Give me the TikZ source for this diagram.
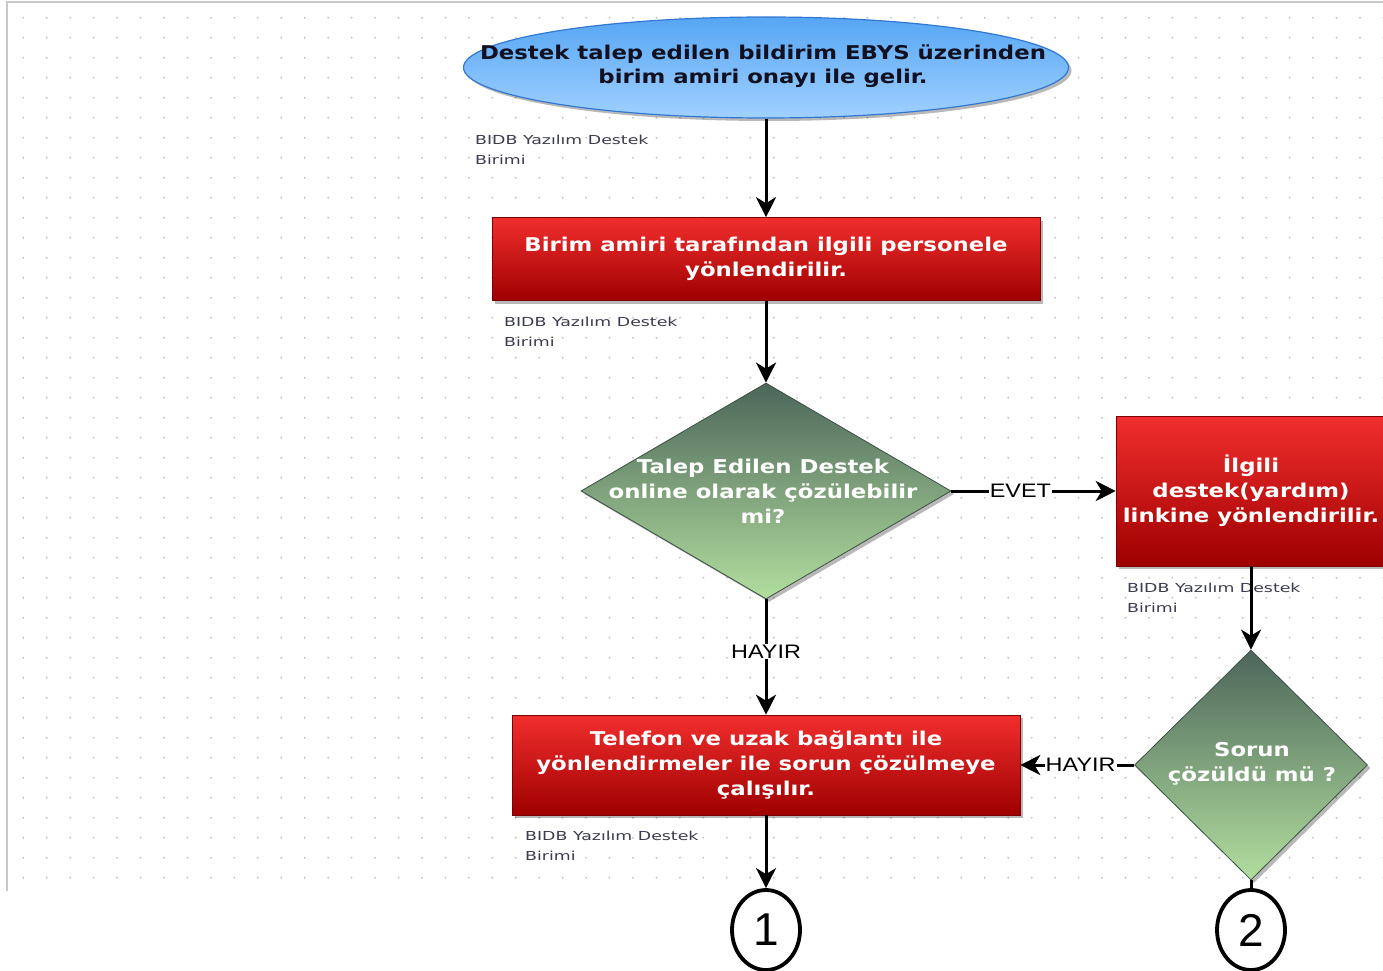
\documentclass[tikz,border=0pt]{standalone}
\usepackage{fontspec}
\usetikzlibrary{shapes.geometric,arrows.meta,shadows}
\newfontfamily\boxfont[FakeStretch=1.2]{DejaVu Sans Bold}
\newfontfamily\lblfont[FakeStretch=1.4]{DejaVu Sans}
\newfontfamily\arfont[FakeStretch=1.2]{Liberation Sans}
\newfontfamily\numfont{Liberation Sans}
\definecolor{redtop}{RGB}{242,46,46}
\definecolor{redbot}{RGB}{158,0,0}
\definecolor{bluetop}{RGB}{86,166,244}
\definecolor{bluebot}{RGB}{160,208,255}
\definecolor{blueline}{RGB}{50,120,210}
\definecolor{greentop}{RGB}{76,102,90}
\definecolor{greenbot}{RGB}{178,222,158}
\definecolor{greenline}{RGB}{60,80,70}
\definecolor{dotc}{RGB}{200,200,200}
\definecolor{lblc}{RGB}{60,60,80}
\definecolor{inktext}{RGB}{16,16,32}
\tikzset{
  shad/.style={general shadow={shadow xshift=3pt,shadow yshift=-3pt,fill=black,opacity=0.28}},
  redbox/.style={rectangle, shad, top color=redtop, bottom color=redbot, draw=redbot!80!black, line width=0.6pt, inner sep=0pt, text=white, align=center, font=\boxfont\fontsize{19}{25}\selectfont},
  startell/.style={ellipse, shad, top color=bluetop, bottom color=bluebot, draw=blueline, line width=1.2pt, inner sep=0pt, minimum width=605, minimum height=101},
  dia/.style={diamond, shad, top color=greentop, bottom color=greenbot, draw=greenline, line width=0.8pt, inner sep=0pt},
  boxtext/.style={inner sep=0pt, align=center, text=white, font=\boxfont\fontsize{19}{25}\selectfont},
  lbl/.style={inner sep=0pt, align=left, anchor=west, text=lblc, font=\lblfont\fontsize{12.4}{20}\selectfont},
  arr/.style={draw=black, line width=3pt, -{Stealth[length=20pt,width=20pt,inset=6pt]}},
  plainline/.style={draw=black, line width=3pt},
  elbl/.style={fill=white, inner sep=1pt, text=black, font=\arfont\fontsize{19.5}{20}\selectfont},
  circ/.style={ellipse, draw=black, line width=3.8pt, fill=white, minimum width=68, minimum height=80, inner sep=0pt, font=\numfont\fontsize{46}{46}\selectfont}
}
\begin{document}
\begin{tikzpicture}[x=1pt,y=-1pt]
\useasboundingbox (0,0) rectangle (1383,971);
\clip (0,0) rectangle (1383,971);
\fill[white] (0,0) rectangle (1383,971);
% canvas grid
\foreach \i in {0,...,58}{
  \foreach \j in {0,...,43}{
    \fill[dotc] (23.3+23.45*\i, 17.7+20*\j) circle (1.1);
  }
}
\draw[dotc, line width=2pt] (7,891) -- (7,2) -- (1390,2);

% nodes
\node[startell] (e1) at (766,67.5) {};
\node[inner sep=0pt, align=center, text=inktext, font=\boxfont\fontsize{19}{24}\selectfont] (e1t) at (763,66) {Destek talep edilen bildirim EBYS üzerinden\\birim amiri onayı ile gelir.};
\node[lbl] (l1) at (475,150) {BIDB Yazılım Destek\\Birimi};

\node[redbox, minimum width=548, minimum height=83] (b1) at (766,259) {Birim amiri tarafından ilgili personele\\yönlendirilir.};
\node[lbl] (l2) at (504,332) {BIDB Yazılım Destek\\Birimi};

\node[dia, minimum width=370, minimum height=216] (d1) at (766,491) {};
\node[boxtext] (d1t) at (763,491) {Talep Edilen Destek\\online olarak çözülebilir\\mi?};

\node[redbox, minimum width=270, minimum height=150] (b3) at (1251,491) {İlgili\\destek(yardım)\\linkine yönlendirilir.};
\node[lbl] (l3) at (1127,598) {BIDB Yazılım Destek\\Birimi};

\node[dia, minimum width=233, minimum height=230] (d2) at (1251,765) {};
\node[boxtext] (d2t) at (1252,764) {Sorun\\çözüldü mü ?};

\node[redbox, minimum width=508, minimum height=100] (b4) at (766,765) {Telefon ve uzak bağlantı ile\\yönlendirmeler ile sorun çözülmeye\\çalışılır.};
\node[lbl] (l4) at (525,846) {BIDB Yazılım Destek\\Birimi};

\node[circ] (c1) at (766,930) {1};
\node[circ] (c2) at (1251,930) {2};

% connectors
\draw[arr] (e1.south) -- (b1.north);
\draw[arr] (b1.south) -- (d1.north);
\draw[arr] (d1.east) -- node[elbl, pos=0.42] {EVET} (b3.west);
\draw[arr] (b3.south) -- (d2.north);
\draw[arr] (d1.south) -- node[elbl, pos=0.45] {HAYIR} (b4.north);
\draw[arr] (d2.west) -- node[elbl, pos=0.47] {HAYIR} (b4.east);
\draw[arr] (b4.south) -- (c1.north);
\draw[plainline] (d2.south) -- (c2.north);
\end{tikzpicture}
\end{document}
